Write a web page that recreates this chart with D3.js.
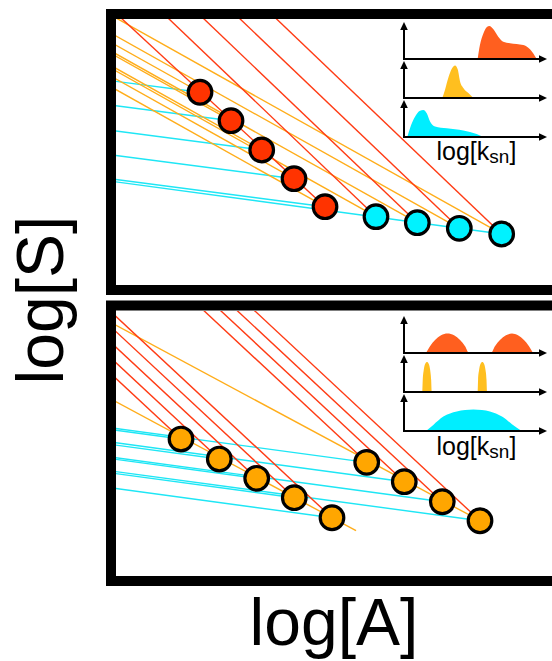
<!DOCTYPE html>
<html>
<head>
<meta charset="utf-8">
<script src="https://cdn.jsdelivr.net/npm/d3@7"></script>
<style>
  html, body { margin: 0; padding: 0; background: #ffffff; }
  svg { display: block; }
</style>
</head>
<body>
<svg id="fig" width="552" height="661"></svg>
<script>
// ---------------- data (arbitrary log units) ----------------
// upper panel: two families of points
const topRedDots  = [[1.927, 4.420], [2.638, 3.768], [3.342, 3.096], [4.083, 2.438], [4.794, 1.796]];
const topCyanDots = [[5.963, 1.567], [6.911, 1.429], [7.874, 1.300], [8.846, 1.170]];
// lower panel: two chains of points
const lowDotsA = [[1.491, 3.142], [2.369, 2.683], [3.227, 2.241], [4.089, 1.796], [4.954, 1.337]];
const lowDotsB = [[5.750, 2.608], [6.612, 2.163], [7.484, 1.704], [8.349, 1.268]];
const lowChainAEnd = 5.505;           // orange chain A runs a little past its last point

// concavity (slope in log S - log A) of each family of lines
const thetaTop = { redChain: 0.925, red: 0.955, orange: 0.56, cyan: 0.13, cyanChain: 0.135 };
const thetaLow = { red: 0.932, orange: 0.537, cyan: 0.135 };

// k_sn distributions  [log k_sn, density]
const topKsnRed    = [[5.15,0],[5.31,.39],[5.55,.71],[5.78,.88],[5.97,.92],[6.24,.83],[6.59,.62],[6.94,.48],[7.41,.44],[8.34,.39],[8.81,.27],[9.28,0]];
const topKsnYellow = [[2.68,0],[2.87,.23],[3.10,.56],[3.34,.81],[3.57,.90],[3.76,.79],[3.92,.46],[4.15,.28],[4.50,.14],[4.85,0]];
const topKsnCyan   = [[0.23,0],[0.42,.24],[0.77,.56],[1.12,.73],[1.35,.75],[1.59,.66],[1.82,.43],[2.17,.29],[2.99,.24],[4.15,.18],[5.08,.08],[5.55,0]];
const lowKsnRed    = [[1.54,0],[1.82,.19],[2.17,.36],[2.59,.49],[3.04,.54],[3.50,.49],[3.92,.36],[4.27,.19],[4.55,0],
                      [6.08,0],[6.36,.19],[6.71,.36],[7.13,.49],[7.55,.54],[7.97,.49],[8.39,.36],[8.74,.19],[9.02,0]];
const lowKsnYellow = [[1.28,0],[1.31,.33],[1.38,.61],[1.48,.78],[1.61,.83],[1.73,.78],[1.83,.61],[1.90,.33],[1.94,0],
                      [5.15,0],[5.18,.33],[5.25,.61],[5.35,.78],[5.48,.83],[5.60,.78],[5.70,.61],[5.77,.33],[5.80,0]];
const lowKsnCyan   = [[1.54,0],[2.05,.17],[2.75,.40],[3.69,.54],[4.27,.58],[4.85,.60],[5.45,.58],[6.01,.54],[6.85,.40],[7.55,.19],[8.23,0]];

const axisLabelX = "log[A]";
const axisLabelY = "log[S]";
const insetLabel = ["log[k", "sn", "]"];

// ---------------- styles ----------------
const C = {
  redLine: "#ff3b14", orangeLine: "#ffad1a", cyanLine: "#1ee6f5",
  redDot: "#ff3300", cyanDot: "#00f2ff", orangeDot: "#ffa600",
  redFill: "#ff5f1f", yellowFill: "#ffbf1f", cyanFill: "#00eeff"
};
const FONT = "'Liberation Sans', Arial, Helvetica, sans-serif";

const svg = d3.select("#fig");
svg.append("rect").attr("width", 552).attr("height", 661).attr("fill", "#ffffff");

const x = d3.scaleLinear().domain([0, 10]).range([116, 552]);

const panels = [
  {
    id: "top", y: d3.scaleLinear().domain([0, 6.1]).range([285, 19]),
    inner: { x: 116, y: 19, w: 460, h: 266 },
    frame: { x: 111, y: 14, w: 470, h: 276 },
    lines: [
      // lines drawn up-slope from each point
      ...topRedDots.map(d => ({ p: d, s: thetaTop.cyan, c: C.cyanLine })),
      ...topCyanDots.slice(-1).map(d => ({ p: d, s: thetaTop.cyanChain, c: C.cyanLine })),
      ...topRedDots.map(d => ({ p: d, s: thetaTop.orange, c: C.orangeLine })),
      ...topCyanDots.map(d => ({ p: d, s: thetaTop.orange, c: C.orangeLine })),
      ...topRedDots.slice(-1).map(d => ({ p: d, s: thetaTop.redChain, c: C.redLine })),
      ...topCyanDots.map(d => ({ p: d, s: thetaTop.red, c: C.redLine }))
    ],
    dots: [
      ...topRedDots.map(d => ({ p: d, c: C.redDot })),
      ...topCyanDots.map(d => ({ p: d, c: C.cyanDot }))
    ],
    inset: { base: 59, rows: [topKsnRed, topKsnYellow, topKsnCyan], label: 160 }
  },
  {
    id: "low", y: d3.scaleLinear().domain([0, 6.08]).range([576, 311]),
    inner: { x: 116, y: 311, w: 460, h: 265 },
    frame: { x: 111, y: 305.5, w: 470, h: 275.5 },
    lines: [
      ...lowDotsA.map(d => ({ p: d, s: thetaLow.cyan, c: C.cyanLine })),
      ...lowDotsB.map(d => ({ p: d, s: thetaLow.cyan, c: C.cyanLine })),
      ...lowDotsA.slice(-1).map(d => ({ p: d, s: thetaLow.orange, c: C.orangeLine, end: lowChainAEnd })),
      ...lowDotsB.slice(-1).map(d => ({ p: d, s: thetaLow.orange, c: C.orangeLine })),
      ...lowDotsA.map(d => ({ p: d, s: thetaLow.red, c: C.redLine })),
      ...lowDotsB.map(d => ({ p: d, s: thetaLow.red, c: C.redLine }))
    ],
    dots: [
      ...lowDotsA.map(d => ({ p: d, c: C.orangeDot })),
      ...lowDotsB.map(d => ({ p: d, c: C.orangeDot }))
    ],
    inset: { base: 353, rows: [lowKsnRed, lowKsnYellow, lowKsnCyan], label: 454.5 }
  }
];

const fills = [C.redFill, C.yellowFill, C.cyanFill];
const kx = d3.scaleLinear().domain([0, 10]).range([404, 547]);
const rowGap = 39, rowH = 36;

panels.forEach(P => {
  const g = svg.append("g").attr("class", "panel-" + P.id);
  const clipId = "clip-" + P.id;
  svg.append("defs").append("clipPath").attr("id", clipId)
    .append("rect").attr("x", P.inner.x).attr("y", P.inner.y)
    .attr("width", P.inner.w).attr("height", P.inner.h);

  // fixed-concavity lines: from beyond the left edge down to the point
  const upstream = -1.5;
  g.append("g").attr("clip-path", `url(#${clipId})`)
    .selectAll("line").data(P.lines).join("line")
    .attr("x1", d => x(upstream))
    .attr("y1", d => P.y(d.p[1] + d.s * (d.p[0] - upstream)))
    .attr("x2", d => x(d.end ?? d.p[0]))
    .attr("y2", d => P.y(d.p[1] - d.s * ((d.end ?? d.p[0]) - d.p[0])))
    .attr("stroke", d => d.c)
    .attr("stroke-width", 1.4);

  g.selectAll("circle").data(P.dots).join("circle")
    .attr("cx", d => x(d.p[0]))
    .attr("cy", d => P.y(d.p[1]))
    .attr("r", 11.8)
    .attr("fill", d => d.c)
    .attr("stroke", "#000")
    .attr("stroke-width", 3.2);

  // panel frame (right side runs off the page)
  g.append("rect")
    .attr("x", P.frame.x).attr("y", P.frame.y)
    .attr("width", P.frame.w).attr("height", P.frame.h)
    .attr("fill", "none").attr("stroke", "#000").attr("stroke-width", 10);

  // k_sn inset: three stacked distributions
  const ig = g.append("g").attr("class", "inset");
  P.inset.rows.forEach((rows, i) => {
    const base = P.inset.base + i * rowGap;
    const ky = d3.scaleLinear().domain([0, 1]).range([base, base - rowH]);
    const area = d3.area().x(d => kx(d[0])).y0(base).y1(d => ky(d[1])).curve(d3.curveMonotoneX);
    ig.append("path").datum(rows).attr("d", area).attr("fill", fills[i]);

    const x0 = kx.range()[0], x1 = kx.range()[1];
    const top = ky(1.03);
    ig.append("line").attr("x1", x0).attr("x2", x0).attr("y1", base).attr("y2", top + 6)
      .attr("stroke", "#000").attr("stroke-width", 2);
    ig.append("path").attr("d", `M${x0},${top} L${x0 - 3.8},${top + 8} L${x0 + 3.8},${top + 8} Z`).attr("fill", "#000");
    ig.append("line").attr("x1", x0 - 1).attr("x2", x1 - 6).attr("y1", base).attr("y2", base)
      .attr("stroke", "#000").attr("stroke-width", 2);
    ig.append("path").attr("d", `M${x1},${base} L${x1 - 8},${base - 3.8} L${x1 - 8},${base + 3.8} Z`).attr("fill", "#000");
  });
  const t = ig.append("text").attr("x", 436.5).attr("y", P.inset.label)
    .attr("font-family", FONT).attr("font-size", 25).attr("fill", "#000");
  t.append("tspan").text(insetLabel[0]);
  t.append("tspan").attr("font-size", 19).attr("dy", 3).text(insetLabel[1]);
  t.append("tspan").attr("dy", -3).text(insetLabel[2]);
});

// axis titles
svg.append("text").attr("x", 334).attr("y", 645)
  .attr("text-anchor", "middle").attr("font-family", FONT).attr("font-size", 66)
  .attr("fill", "#000").text(axisLabelX);
svg.append("text").attr("transform", "translate(63,300) rotate(-90)")
  .attr("text-anchor", "middle").attr("font-family", FONT).attr("font-size", 66)
  .attr("fill", "#000").text(axisLabelY);
</script>
</body>
</html>
